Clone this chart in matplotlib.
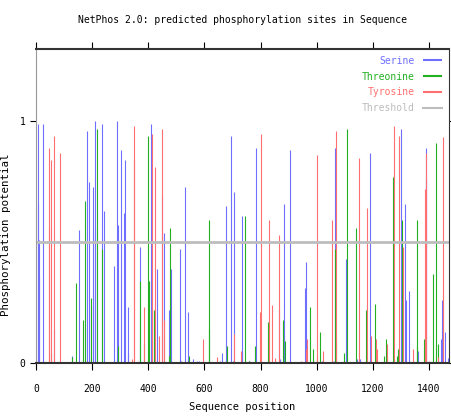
import numpy as np
import matplotlib
matplotlib.use('Agg')
import matplotlib.pyplot as plt

# NetPhos 2.0 predictions: (position, score) for each residue type
serine_pos = [7, 8, 9, 10, 25, 64, 129, 154, 183, 189, 195, 204, 210, 211, 236,
              243, 277, 290, 292, 304, 315, 317, 327, 328, 369, 372, 410, 432, 450,
              456, 473, 480, 513, 517, 532, 543, 560, 574, 580, 656, 663, 678, 696,
              707, 700, 735, 732, 758, 785, 865, 868, 885, 906, 957, 960, 1018,
              1060, 1066, 1104, 1145, 1150, 1155, 1190, 1301, 1315, 1317, 1329,
              1360, 1388, 1389, 1444, 1447, 1455, 1466]
serine_val = [0.99, 0.66, 0.36, 0.51, 0.99, 0.14, 0.03, 0.55, 0.96, 0.75, 0.24,
              0.73, 0.55, 1.0, 0.99, 0.63, 0.40, 1.0, 0.57, 0.88, 0.62, 0.84, 0.23,
              0.04, 0.48, 0.015, 0.99, 0.39, 0.69, 0.54, 0.22, 0.39, 0.47, 0.01,
              0.73, 0.21, 0.015, 0.01, 0.01, 0.01, 0.04, 0.65, 0.94, 0.71, 0.01,
              0.045, 0.61, 0.01, 0.89, 0.22, 0.015, 0.66, 0.88, 0.31, 0.42, 0.01,
              0.01, 0.89, 0.43, 0.015, 0.015, 0.015, 0.87, 0.97, 0.66, 0.26, 0.30,
              0.05, 0.89, 0.76, 0.10, 0.26, 0.13, 0.02]

threonine_pos = [55, 129, 144, 167, 168, 173, 195, 196, 218, 236, 292, 370, 386,
                 400, 402, 421, 474, 479, 544, 615, 616, 680, 746, 760, 779, 828,
                 878, 888, 977, 988, 1000, 1012, 1064, 1070, 1097, 1109, 1140,
                 1176, 1209, 1240, 1247, 1271, 1285, 1290, 1302, 1305, 1356, 1357,
                 1381, 1413, 1425, 1430]
threonine_val = [0.04, 0.025, 0.33, 0.18, 0.015, 0.67, 0.27, 0.025, 0.97, 0.47,
                 0.07, 0.34, 0.08, 0.94, 0.34, 0.22, 0.03, 0.56, 0.03, 0.59, 0.14,
                 0.07, 0.61, 0.01, 0.07, 0.17, 0.18, 0.09, 0.23, 0.06, 0.03, 0.13,
                 0.47, 0.10, 0.04, 0.97, 0.56, 0.22, 0.245, 0.03, 0.10, 0.77, 0.03,
                 0.06, 0.03, 0.59, 0.59, 0.07, 0.10, 0.37, 0.91, 0.08]

tyrosine_pos = [46, 48, 55, 64, 87, 341, 349, 350, 386, 414, 425, 439, 450, 455,
                596, 643, 706, 731, 797, 803, 831, 840, 853, 865, 945, 962, 964,
                1001, 1021, 1056, 1069, 1150, 1178, 1193, 1212, 1213, 1251, 1274,
                1294, 1306, 1343, 1385, 1388, 1400, 1432, 1450]
tyrosine_val = [0.56, 0.89, 0.84, 0.94, 0.87, 0.015, 0.84, 0.98, 0.23, 0.95, 0.81,
                0.11, 0.97, 0.18, 0.10, 0.025, 0.12, 0.05, 0.21, 0.95, 0.59, 0.24,
                0.02, 0.53, 0.01, 0.06, 0.10, 0.86, 0.05, 0.59, 0.96, 0.85, 0.64,
                0.11, 0.10, 0.06, 0.08, 0.98, 0.94, 0.48, 0.06, 0.72, 0.87, 0.01,
                0.025, 0.935]

threshold = 0.5
seq_len = 1471
mono = 'DejaVu Sans Mono'
colors = {'Serine': '#6f6fff', 'Threonine': '#22b022',
          'Tyrosine': '#ff6f6f', 'Threshold': '#bdbdbd'}

fig = plt.figure(figsize=(4.52, 4.17), dpi=100)
ax = fig.add_axes([0.0796, 0.1295, 0.9138, 0.753])

ax.vlines(serine_pos, 0, serine_val, color=colors['Serine'], lw=0.8, label='Serine')
ax.vlines(threonine_pos, 0, threonine_val, color=colors['Threonine'], lw=0.8, label='Threonine')
ax.vlines(tyrosine_pos, 0, tyrosine_val, color=colors['Tyrosine'], lw=0.8, label='Tyrosine')
ax.axhline(threshold, color=colors['Threshold'], lw=2, label='Threshold')

ax.set_xlim(0, seq_len)
ax.set_ylim(0, 1.3)
ax.set_xticks(np.arange(0, 1401, 200))
ax.set_yticks([0, 1])
ax.tick_params(axis='x', direction='out', length=5, top=True, labelsize=7, pad=10)
ax.tick_params(axis='y', direction='out', length=4, right=True, labelsize=7)
for lab in ax.get_xticklabels() + ax.get_yticklabels():
    lab.set_family(mono)

for side in ['top', 'bottom', 'right']:
    ax.spines[side].set_color('#333333')
ax.spines['top'].set_linewidth(1.5)
ax.spines['bottom'].set_linewidth(1.5)
ax.spines['left'].set_color('#999999')

ax.set_title('NetPhos 2.0: predicted phosphorylation sites in Sequence',
             fontsize=7, family=mono, pad=19)
ax.set_xlabel('Sequence position', fontsize=7.5, family=mono, labelpad=6)
ax.set_ylabel('Phosphorylation potential', fontsize=7.8, family=mono)
ax.yaxis.set_label_coords(-0.06, 0.41)

leg = ax.legend(loc='upper right', frameon=False, markerfirst=False,
                prop={'family': mono, 'size': 7},
                handlelength=2.0, labelspacing=0.6, borderaxespad=0.3)
for line in leg.get_lines():
    line.set_linewidth(1.5)
for txt in leg.get_texts():
    txt.set_color(colors[txt.get_text()])

fig.savefig('out.png', dpi=100)
